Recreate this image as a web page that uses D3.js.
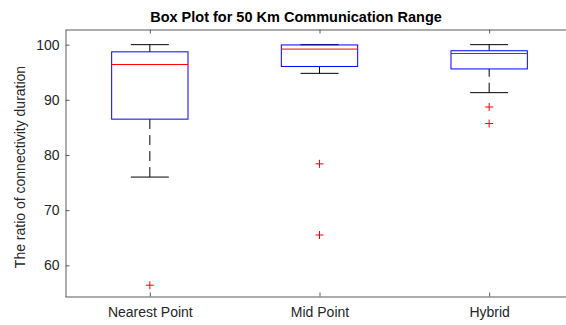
<!DOCTYPE html>
<html>
<head>
<meta charset="utf-8">
<script src="https://cdn.jsdelivr.net/npm/d3@7"></script>
<style>
  html, body { margin: 0; padding: 0; background: #fff; }
  svg { display: block; font-family: "Liberation Sans", Arial, Helvetica, sans-serif; }
</style>
</head>
<body>
<svg id="chart" width="566" height="325"></svg>
<script>
// Box statistics per strategy
const categories = ["Nearest Point", "Mid Point", "Hybrid"];
const upperWhisker = [100, 100, 100];
const q3 = [98.7, 99.95, 98.9];
const median = [96.4, 99.2, 98.4];
const q1 = [86.5, 96.05, 95.6];
const lowerWhisker = [76.0, 94.8, 91.3];
const outliers = [[56.4], [78.4, 65.5], [88.7, 85.7]];
const yTicks = [60, 70, 80, 90, 100];

const svg = d3.select("#chart");
const plotLeft = 65, plotRight = 574, plotTop = 29.5, plotBottom = 296.5;

const x = d3.scaleLinear().domain([0.5, 3.5]).range([plotLeft, plotRight]);
const y = d3.scaleLinear().domain([54.35, 102.75]).range([plotBottom, plotTop]);

const boxHalf = 0.225, capHalf = 0.112;
const axisColor = "#262626";
const lineColor = "#5a5a5a";

// axes
const yAxis = d3.axisLeft(y).tickValues(yTicks).tickSize(-4).tickPadding(6).tickSizeOuter(0);
const gy = svg.append("g").attr("transform", `translate(${plotLeft + 0.5},0)`).call(yAxis);
gy.selectAll("text").attr("font-size", 14).attr("fill", axisColor);

const xAxis = d3.axisBottom(x).tickValues([1, 2, 3]).tickFormat((d) => categories[d - 1])
  .tickSize(-4).tickPadding(11).tickSizeOuter(0);
const gx = svg.append("g").attr("transform", `translate(0,${plotBottom})`).call(xAxis);
gx.selectAll("text").attr("font-size", 14).attr("fill", axisColor);

// top border with mirrored ticks
const xTop = d3.axisTop(x).tickValues([1, 2, 3]).tickFormat("").tickSize(-4).tickSizeOuter(0);
svg.append("g").attr("transform", `translate(0,${plotTop})`).call(xTop);

svg.selectAll(".domain").attr("stroke", lineColor);
svg.selectAll(".tick line").attr("stroke", lineColor);

// boxes
const idx = d3.range(categories.length);
const g = svg.append("g");

idx.forEach((i) => {
  const c = i + 1;
  // lower whisker (dashed, drawn from cap toward box)
  g.append("line")
    .attr("x1", x(c)).attr("x2", x(c))
    .attr("y1", y(lowerWhisker[i])).attr("y2", y(q1[i]))
    .attr("stroke", "#000").attr("stroke-dasharray", "10,6");
  // upper whisker
  g.append("line")
    .attr("x1", x(c)).attr("x2", x(c))
    .attr("y1", y(upperWhisker[i])).attr("y2", y(q3[i]))
    .attr("stroke", "#000").attr("stroke-dasharray", "10,6");
  // caps
  [upperWhisker[i], lowerWhisker[i]].forEach((v) => {
    g.append("line")
      .attr("x1", x(c - capHalf)).attr("x2", x(c + capHalf))
      .attr("y1", y(v)).attr("y2", y(v))
      .attr("stroke", "#000");
  });
  // box
  g.append("rect")
    .attr("x", x(c - boxHalf)).attr("width", x(c + boxHalf) - x(c - boxHalf))
    .attr("y", y(q3[i])).attr("height", y(q1[i]) - y(q3[i]))
    .attr("fill", "none").attr("stroke", "#0000ff");
  // median
  g.append("line")
    .attr("x1", x(c - boxHalf)).attr("x2", x(c + boxHalf))
    .attr("y1", y(median[i])).attr("y2", y(median[i]))
    .attr("stroke", "#ff0000");
  // outliers
  outliers[i].forEach((v) => {
    g.append("path")
      .attr("d", `M${x(c) - 4},${y(v)}h8M${x(c)},${y(v) - 4}v8`)
      .attr("stroke", "#ff0000").attr("fill", "none");
  });
});

// title
svg.append("text")
  .attr("x", 296).attr("y", 21.5)
  .attr("text-anchor", "middle")
  .attr("font-size", 14.5).attr("font-weight", "bold").attr("fill", "#000")
  .text("Box Plot for 50 Km Communication Range");

// y label
svg.append("text")
  .attr("transform", `translate(25,${(plotTop + plotBottom) / 2 + 4}) rotate(-90)`)
  .attr("text-anchor", "middle")
  .attr("font-size", 14).attr("fill", axisColor)
  .text("The ratio of connectivity duration");
</script>
</body>
</html>
